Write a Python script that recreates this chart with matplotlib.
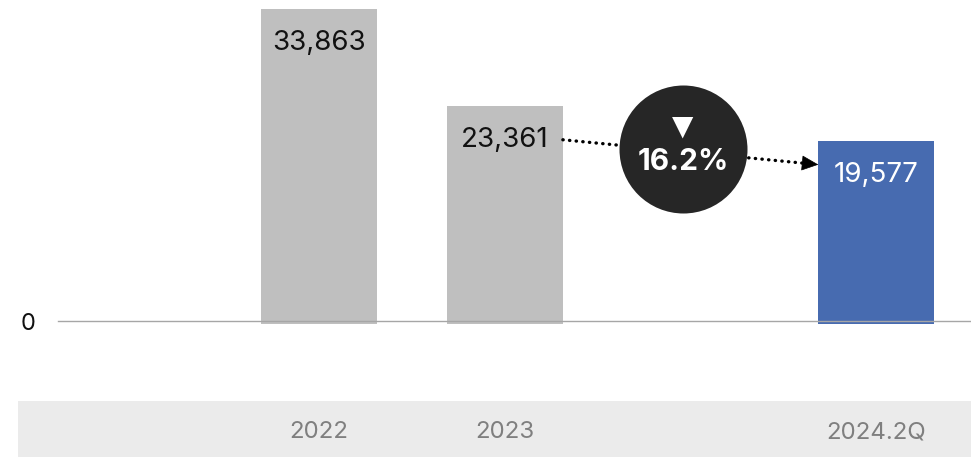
import matplotlib
matplotlib.use("Agg")
import matplotlib.pyplot as plt
from matplotlib.patches import Rectangle
from matplotlib.transforms import blended_transform_factory

plt.rcParams['font.family'] = ['Inter', 'DejaVu Sans']

# Yearly totals
periods = ['2022', '2023', '2024.2Q']
values = [33863, 23361, 19577]
slots = [0, 1, 3]          # slot 2 is left free for the change badge
bar_colors = ['#bfbfbf', '#bfbfbf', '#476bb0']
label_colors = ['#111111', '#111111', '#ffffff']

change = (values[2] - values[1]) / values[1] * 100

W, H = 971, 457
fig = plt.figure(figsize=(W / 100, H / 100), dpi=100)
ax = fig.add_axes([0, 0, 1, 1])
ax.set_axis_off()

# layout in pixels: slot spacing, first slot centre, zero line height
slot_px = 185.8
x0_px = 319
zero_px = 136                      # from the bottom edge
unit_px = 312 / values[0]          # pixels per unit, tallest bar ~312 px
ax.set_xlim(-x0_px / slot_px, (W - x0_px) / slot_px)
ax.set_ylim(-zero_px / unit_px, (H - zero_px) / unit_px)
ypx = 1 / unit_px                  # data units per pixel

width = 0.625
sink = 3 * ypx
ax.bar(slots, [v + sink for v in values], bottom=-sink, width=width,
       color=bar_colors, zorder=2)
ax.axhline(0, xmin=58 / W, xmax=1, color='#a6a6a6', lw=1, zorder=3)

for s, v, c in zip(slots, values, label_colors):
    ax.text(s, v - 34 * ypx, f'{v:,}', ha='center', va='center',
            fontsize=20, color=c, zorder=4)

ax.text(-291 / slot_px, -3 * ypx, '0', ha='center', va='center',
        fontsize=17, color='#111111')

# category band at the bottom
fig.patches.append(Rectangle((18 / W, 0), 1, 56 / H, transform=fig.transFigure,
                             facecolor='#ebebeb', edgecolor='none', zorder=-1))
trans = blended_transform_factory(ax.transData, fig.transFigure)
for s, p in zip(slots, periods):
    ax.text(s, 25 / H, p, transform=trans, ha='center', va='center',
            fontsize=17.3, color='#7f7f7f', zorder=5)

# dotted arrow from 2023 to 2024.2Q
x_start = slots[1] + width / 2
y_start = values[1] - 34 * ypx
x_end = slots[2] - width / 2
y_end = values[2] - 24 * ypx
slope = (y_end - y_start) / (x_end - x_start)
ax.plot([x_start, x_end - 0.05], [y_start, y_end - slope * 0.05],
        color='black', lw=2.4, linestyle=(0, (0.1, 1.9)), dash_capstyle='round', zorder=3)
back = 0.07
ax.annotate('', xy=(x_end, y_end), xytext=(x_end - back, y_end - slope * back),
            arrowprops=dict(arrowstyle='-|>,head_length=1.1,head_width=0.5',
                            color='black', lw=0.5, shrinkA=0, shrinkB=0), zorder=3)

# change badge
cx = (683 - x0_px) / slot_px
cy = (H - 149 - zero_px) * ypx
ax.scatter([cx], [cy], s=(128 * 0.72) ** 2, color='#262626', zorder=5, linewidths=0)
ax.text(cx, cy + 22 * ypx, '▼', ha='center', va='center', fontsize=20,
        color='white', zorder=6, family=['DejaVu Sans'])
ax.text(cx, cy - 13 * ypx, f'{abs(change):.1f}%', ha='center', va='center',
        fontsize=21.5, fontweight='bold', color='white', zorder=6)

fig.savefig('out.png', dpi=100)
